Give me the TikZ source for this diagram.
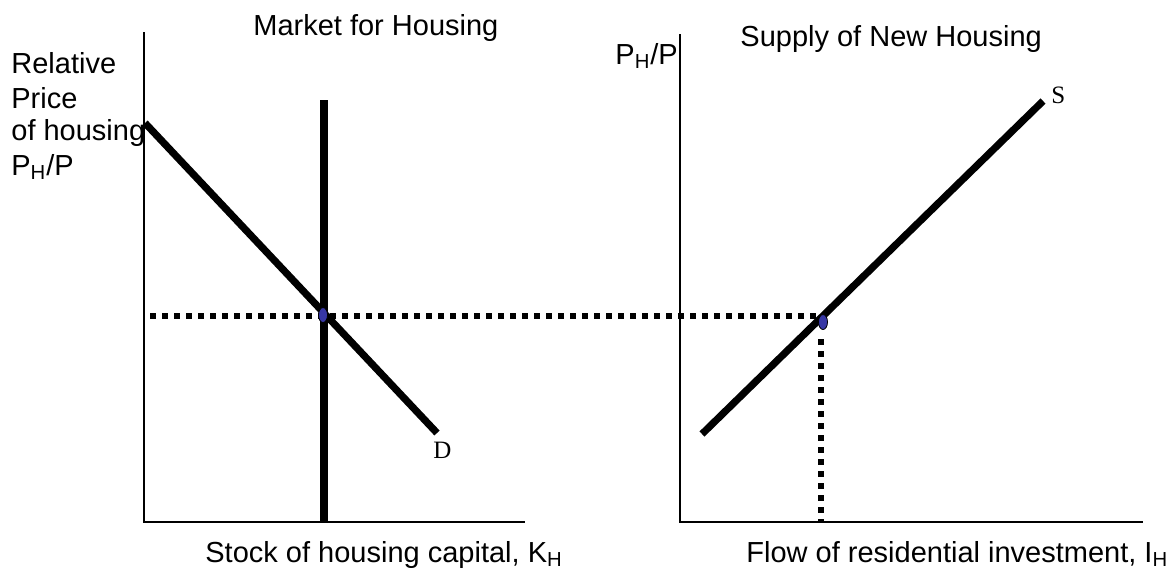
\documentclass[tikz,border=0pt]{standalone}
\usepackage{fontspec}
\setmainfont{Liberation Sans}
\newfontfamily\seriffont{Liberation Serif}
\usetikzlibrary{shapes.geometric}
\definecolor{dotblue}{RGB}{55,55,165}
\tikzset{
  axis/.style={line width=1pt},
  curve/.style={line width=3.6pt},
  guide/.style={line width=2.6pt, dash pattern=on 2.9pt off 3.1pt},
  eqdot/.style={ellipse, fill=dotblue, draw=black, line width=0.4pt, minimum width=4.5pt, minimum height=7.5pt, inner sep=0pt},
  lbl/.style={font=\fontsize{14.5}{17}\selectfont, inner sep=0pt},
  crvlbl/.style={font=\seriffont\fontsize{12.5}{14}\selectfont, inner sep=0pt}
}
\begin{document}
\begin{tikzpicture}[x=0.5pt,y=-0.5pt]
\useasboundingbox (0,0) rectangle (1170,569);
% left axes
\coordinate (LT) at (144,32);
\coordinate (LO) at (144,522);
\coordinate (LR) at (525,522);
\draw[axis] (LT) -- (LO) -- (LR);
% right axes
\coordinate (RT) at (680,34);
\coordinate (RO) at (680,522);
\coordinate (RR) at (1143,522);
\draw[axis] (RT) -- (RO) -- (RR);
% vertical supply of stock
\coordinate (V1) at (324,100);
\coordinate (V2) at (324,522);
\draw[curve] (V1) -- (V2);
% demand
\coordinate (D1) at (145,123);
\coordinate (D2) at (437,433);
\draw[curve] (D1) -- (D2);
% supply of new housing
\coordinate (S1) at (702,434);
\coordinate (S2) at (1043,101);
\draw[curve] (S1) -- (S2);
% guides
\coordinate (G0) at (150,316);
\coordinate (G1) at (816,316);
\coordinate (G2) at (821,339);
\coordinate (GB) at (821,522);
\draw[guide] (G0) -- (G1);
\draw[guide] (G2) -- (GB);
% equilibrium dots
\node[eqdot] (E1) at (323,315) {};
\node[eqdot] (E2) at (823,322) {};
% labels
\node[crvlbl, anchor=base west] (Dl) at (433,458) {D};
\node[crvlbl, anchor=base west] (Sl) at (1051,103) {S};
\node[lbl, anchor=base west] (t1) at (253,35) {Market for Housing};
\node[lbl, anchor=base west] (t2) at (740,46) {Supply of New Housing};
\node[lbl, anchor=base west] (py) at (615,64) {P\textsubscript{H}/P};
\node[lbl, anchor=base west] (r1) at (11,73) {Relative};
\node[lbl, anchor=base west] (r2) at (11,108) {Price};
\node[lbl, anchor=base west] (r3) at (11,140) {of housing};
\node[lbl, anchor=base west] (r4) at (11,175) {P\textsubscript{H}/P};
\node[lbl, anchor=base west] (bx1) at (205,562) {Stock of housing capital, K\textsubscript{H}};
\node[lbl, anchor=base west] (bx2) at (746,562) {Flow of residential investment, I\textsubscript{H}};
\end{tikzpicture}
\end{document}
